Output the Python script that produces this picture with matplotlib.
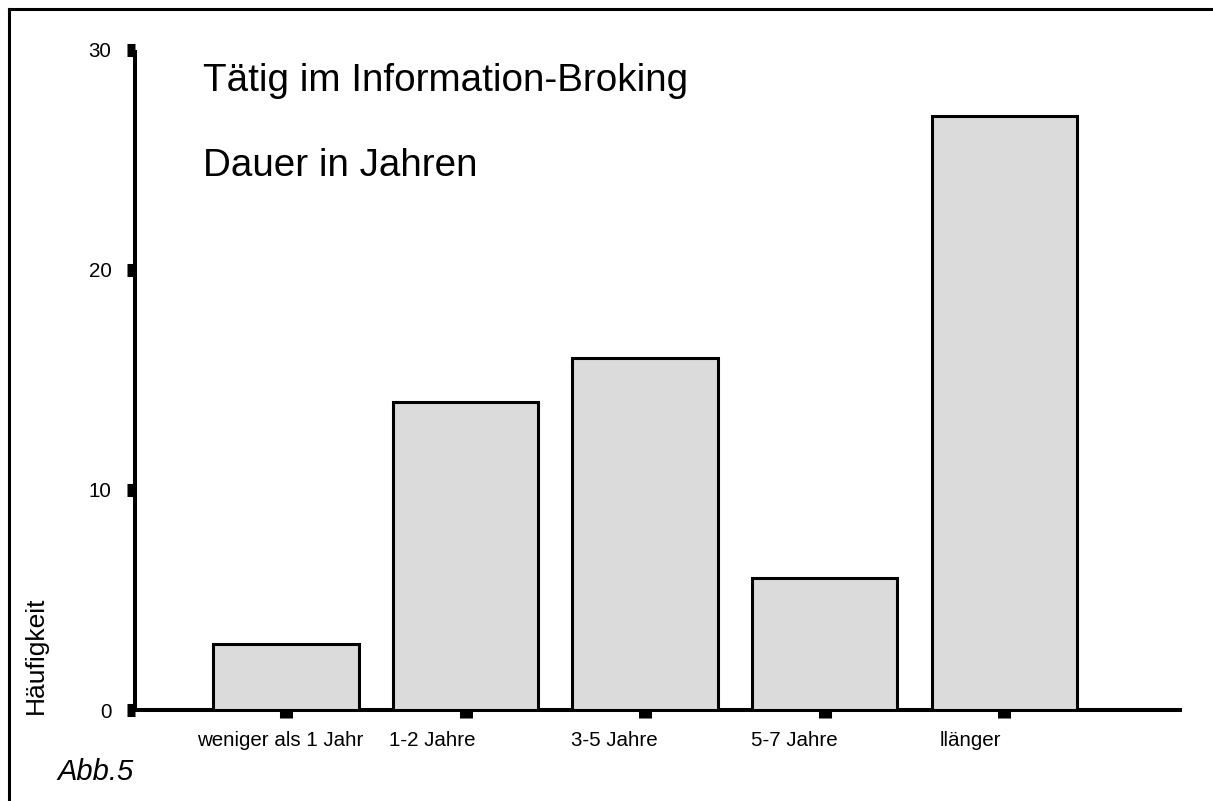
import numpy as np
import matplotlib.pyplot as plt
from matplotlib.lines import Line2D
import matplotlib.transforms as mtransforms

#------------------------------------------------------------------------------
#   Data
#------------------------------------------------------------------------------
categories = ['weniger als 1 Jahr', '1-2 Jahre', '3-5 Jahre', '5-7 Jahre', 'llänger']
counts = [3, 14, 16, 6, 27]
y_ticks = [0, 10, 20, 30]

title_1 = 'Tätig im Information-Broking'
title_2 = 'Dauer in Jahren'
y_label = 'Häufigkeit'
caption = 'Abb.5'

plt.rcParams['font.family'] = ['Liberation Sans', 'DejaVu Sans']

W, H = 1213, 801
fig = plt.figure(figsize=(W / 100, H / 100), dpi=100)
fig.patch.set_facecolor('white')

# axes box in pixels
ax = fig.add_axes([135 / W, (H - 710) / H, (1182 - 135) / W, (710 - 49.5) / H])

x = np.arange(len(categories))
ax.bar(x, counts, width=0.81, color='#dbdbdb', edgecolor='black', linewidth=2.2, zorder=3)

ax.set_xlim(-0.841, 4.99)
ax.set_ylim(0, 30)

for side in ['top', 'right']:
    ax.spines[side].set_visible(False)
for side in ['left', 'bottom']:
    ax.spines[side].set_linewidth(2.9)
    ax.spines[side].set_capstyle('butt')

ax.set_yticks(y_ticks)
ax.set_yticklabels([str(v) for v in y_ticks])
ax.set_xticks(x)
ax.set_xticklabels(categories)

ax.tick_params(axis='y', direction='out', length=6, width=9.4, pad=11, labelsize=14.8)
ax.tick_params(axis='x', direction='out', length=6, width=9.4, pad=9, labelsize=14.8)

# shift x labels a bit to the left like in the original
label_shift_px = [-6, -33, -31, -30, -34]
for lab, dx in zip(ax.get_xticklabels(), label_shift_px):
    lab.set_transform(lab.get_transform() + mtransforms.ScaledTranslation(dx / 100, 0, fig.dpi_scale_trans))

# texts
fig.text(203 / W, (H - 91) / H, title_1, fontsize=27.8, ha='left', va='baseline')
fig.text(203 / W, (H - 176) / H, title_2, fontsize=27.8, ha='left', va='baseline')
fig.text(36 / W, (H - 655) / H, y_label, fontsize=19, rotation=90, ha='center', va='center')
fig.text(57 / W, (H - 780) / H, caption, fontsize=21, style='italic', ha='left', va='baseline')

# frame lines (top and left only)
fig.add_artist(Line2D([9 / W, 1.0], [(H - 9) / H, (H - 9) / H], color='black', linewidth=2.2,
                      transform=fig.transFigure))
fig.add_artist(Line2D([9 / W, 9 / W], [(H - 9) / H, 0], color='black', linewidth=2.2,
                      transform=fig.transFigure))

plt.savefig('out.png', dpi=100)
